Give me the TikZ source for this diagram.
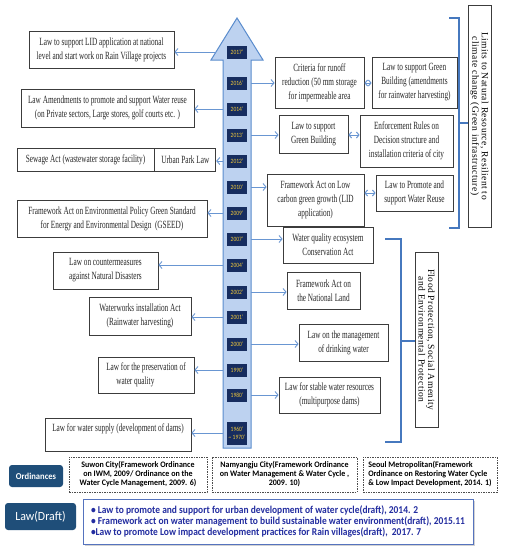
\documentclass[tikz,border=0pt]{standalone}
\usepackage{fontspec}
\usetikzlibrary{arrows.meta,shadows}
\newfontfamily\bxfont[FakeStretch=0.66]{Liberation Serif}
\newfontfamily\rotfont[LetterSpace=5]{Liberation Serif}
\newfontfamily\yrfont[FakeStretch=0.85]{Carlito}
\newfontfamily\ordfont[FakeStretch=0.95]{Carlito}
\newfontfamily\draftfont[FakeStretch=0.9]{Carlito}
\definecolor{arrfill}{RGB}{189,210,240}
\definecolor{arrline}{RGB}{90,140,205}
\definecolor{conncol}{RGB}{105,150,210}
\definecolor{navy}{RGB}{23,45,95}
\definecolor{yrtext}{RGB}{240,200,60}
\definecolor{brk}{RGB}{70,120,190}
\definecolor{boxline}{RGB}{60,60,60}
\definecolor{txt}{RGB}{40,40,40}
\definecolor{darkbtn}{RGB}{31,78,121}
\definecolor{draftblue}{RGB}{35,45,160}
\definecolor{draftline}{RGB}{85,115,190}
\tikzset{
  lawbox/.style={draw=boxline, line width=0.8pt, fill=white, inner sep=1pt, align=center, text=txt,
    font=\bxfont\fontsize{11}{14}\selectfont},
  yrbox/.style={fill=navy, text=yrtext, inner sep=0pt, minimum width=20pt, minimum height=13pt,
    align=center, font=\yrfont\fontsize{6.5}{7.5}\selectfont},
  conn/.style={draw=conncol, line width=0.9pt, -{Straight Barb[length=3pt,width=7pt]}},
  dbl/.style={draw=conncol, line width=1pt, {Straight Barb[length=2.5pt,width=6pt]}-{Straight Barb[length=2.5pt,width=6pt]}},
  brkline/.style={draw=brk, line width=1.4pt},
  rotbox/.style={draw=boxline, line width=0.8pt, fill=white, rotate=-90, align=center, inner sep=0pt,
    font=\rotfont\fontsize{9.5}{9.5}\selectfont},
  ordbox/.style={draw=gray!60!black, dash pattern=on 1.5pt off 1pt, line width=0.6pt, align=center,
    inner sep=1pt, font=\ordfont\bfseries\fontsize{8.4}{9}\selectfont},
  btn/.style={fill=darkbtn, rounded corners=3pt, text=white, inner sep=0pt},
}
\begin{document}
\begin{tikzpicture}[x=1pt,y=-1pt]
\useasboundingbox[fill=white] (0,0) rectangle (509,550);
% big timeline arrow
\draw[fill=arrfill, draw=arrline, line width=1pt]
  (223,448) -- (223,60) -- (211,60) -- (237,18) -- (263,60) -- (251,60) -- (251,448) -- cycle;
\coordinate (shL) at (223,0);
\coordinate (shR) at (251,0);
\coordinate (headL) at (216,52);
% years
\node[yrbox] (y2017) at (237,52) {2017’};
\node[yrbox] (y2016) at (237,83) {2016’};
\node[yrbox] (y2014) at (237,109) {2014’};
\node[yrbox] (y2013) at (237,135) {2013’};
\node[yrbox] (y2012) at (237,161) {2012’};
\node[yrbox] (y2010) at (237,187) {2010’};
\node[yrbox] (y2009) at (237,213) {2009’};
\node[yrbox] (y2007) at (237,239) {2007’};
\node[yrbox] (y2004) at (237,265) {2004’};
\node[yrbox] (y2002) at (237,292) {2002’};
\node[yrbox] (y2001) at (237,317) {2001’};
\node[yrbox] (y2000) at (237,344) {2000’};
\node[yrbox] (y1990) at (237,370) {1990’};
\node[yrbox] (y1980) at (237,395) {1980’};
\node[yrbox, minimum height=23pt] (y1960) at (237,433) {1960’\\\textasciitilde\ 1970’};
% left boxes
\node[lawbox, minimum width=145pt, minimum height=37pt] (L1) at (101.5,49.5)
  {Law to support LID application at national\\level and start work on Rain Village projects};
\node[lawbox, minimum width=173pt, minimum height=38pt] (L2) at (107.5,108)
  {Law Amendments to promote and support Water reuse\\(on Private sectors, Large stores, golf courts etc. )};
\node[lawbox, minimum width=137pt, minimum height=23pt] (L3a) at (85.5,159.5)
  {Sewage Act (wastewater storage facility)};
\node[lawbox, minimum width=61pt, minimum height=23pt, anchor=west] (L3b) at (L3a.east)
  {Urban Park Law};
\node[lawbox, minimum width=190pt, minimum height=37pt] (L4) at (112,218.5)
  {Framework Act on Environmental Policy Green Standard\\for Energy and Environmental Design\ \ (GSEED)};
\node[lawbox, align=left, minimum width=105pt, minimum height=37pt] (L5) at (105.5,270.5)
  {Law on countermeasures\\against Natural Disasters};
\node[lawbox, minimum width=102pt, minimum height=38pt] (L6) at (140,316)
  {Waterworks installation Act\\(Rainwater harvesting)};
\node[lawbox, align=left, minimum width=96pt, minimum height=36pt] (L7) at (146,375)
  {Law for the preservation of\\\hspace*{10pt}water quality};
\node[lawbox, minimum width=146pt, minimum height=33pt] (L8) at (118,434.5)
  {Law for water supply (development of dams)\\\mbox{}};
% right boxes
\node[lawbox, minimum width=89pt, minimum height=51pt] (R1) at (319.5,82.5)
  {Criteria for runoff\\reduction (50 mm storage\\for impermeable area};
\node[lawbox, minimum width=85pt, minimum height=51pt] (R2) at (414.5,82.5)
  {Law to support Green\\Building (amendments\\for rainwater harvesting)};
\node[lawbox, minimum width=69pt, minimum height=38pt] (R3) at (313.5,134)
  {Law to support\\Green Building};
\node[lawbox, minimum width=93pt, minimum height=52pt] (R4) at (406.5,141)
  {Enforcement Rules on\\Decision structure and\\installation criteria of city};
\node[lawbox, minimum width=97pt, minimum height=52pt] (R5) at (315.5,200)
  {Framework Act on Low\\carbon green growth (LID\\application)};
\node[lawbox, minimum width=77pt, minimum height=36pt] (R6) at (414.5,193)
  {Law to Promote and\\support Water Reuse};
\node[lawbox, minimum width=90pt, minimum height=36pt] (R7) at (328,245)
  {Water quality ecosystem\\Conservation Act};
\node[lawbox, minimum width=73pt, minimum height=37pt] (R8) at (323.5,290.5)
  {Framework Act on\\the National Land};
\node[lawbox, minimum width=89pt, minimum height=37pt] (R9) at (343.5,342.5)
  {Law on the management\\of drinking water};
\node[lawbox, minimum width=101pt, minimum height=36pt] (R10) at (329.5,395)
  {Law for stable water resources\\(multipurpose dams)};
% left connectors
\draw[conn] (y2017 -| headL) -- (L1.east |- y2017);
\draw[conn] (y2014 -| shL) -- (L2.east |- y2014);
\draw[conn] (y2012 -| shL) -- (L3b.east |- y2012);
\draw[conn] (y2009 -| shL) -- (L4.east |- y2009);
\draw[conn] (y2004 -| shL) -- (L5.east |- y2004);
\draw[conn] (y2001 -| shL) -- (L6.east |- y2001);
\draw[conn] (y1990 -| shL) -- (L7.east |- y1990);
\draw[conn] (y1960 -| shL) -- (L8.east |- y1960);
% right connectors
\draw[conn] (y2016 -| shR) -- (R1.west |- y2016);
\draw[conn] (y2013 -| shR) -- (R3.west |- y2013);
\draw[conn] (y2010 -| shR) -- (R5.west |- y2010);
\draw[conn] (y2007 -| shR) -- (R7.west |- y2007);
\draw[conn] (y2002 -| shR) -- (R8.west |- y2002);
\draw[conn] (y2000 -| shR) -- (R9.west |- y2000);
\draw[conn] (y1980 -| shR) -- (R10.west |- y1980);
\draw[dbl] (R1.east |- y2016) -- (R2.west |- y2016);
\draw[dbl] (R3.east |- y2013) -- (R4.west |- y2013);
\draw[dbl] (R5.east |- R6) -- (R6.west);
% brackets
\node[rotbox, minimum width=222pt, minimum height=23pt] (K1) at (479.5,116)
  {Limits to Natural Resource, Resilient to\\climate change (Green infrastructure)};
\node[rotbox, minimum width=175pt, minimum height=23pt] (K2) at (426.5,339.5)
  {Flood Protection, Social Amenity\\and Environmental Protection};
\draw[brkline] (449,18) -- (459,18) -- (459,228) -- (449,228);
\coordinate (b1m) at (459,123);
\draw[brkline] (b1m) -- (K1.south |- b1m);
\draw[brkline] (385,239) -- (401,239) -- (401,442) -- (385,442);
\coordinate (b2m) at (401,341);
\draw[brkline] (b2m) -- (K2.south |- b2m);
% ordinances
\node[btn, minimum width=54pt, minimum height=22pt, font=\ordfont\bfseries\fontsize{9}{10}\selectfont] (ORD) at (36,476) {Ordinances};
\node[ordbox, minimum width=138pt, minimum height=35pt] (D1) at (138,474.5)
  {Suwon City(Framework Ordinance\\on IWM, 2009/ Ordinance on the\\Water Cycle Management, 2009. 6)};
\node[ordbox, minimum width=145pt, minimum height=35pt] (D2) at (284.5,474.5)
  {Namyangju City(Framework Ordinance\\on Water Management \& Water Cycle ,\\2009. 10)};
\node[ordbox, align=left, minimum width=134pt, minimum height=35pt] (D3) at (430,474.5)
  {Seoul Metropolitan(Framework\\Ordinance on Restoring Water Cycle\\\& Low Impact Development, 2014. 1)};
% law draft
\node[btn, minimum width=71pt, minimum height=27pt, font=\ordfont\fontsize{12.5}{13}\selectfont] (LD) at (40.5,516.5) {Law(Draft)};
\node[draw=draftline, line width=1pt, fill=white, drop shadow={shadow xshift=1.5pt, shadow yshift=-1.5pt, opacity=0.35},
  align=left, text=draftblue, minimum width=390pt, minimum height=45pt, inner sep=1pt,
  font=\draftfont\bfseries\fontsize{10.5}{11}\selectfont] (DR) at (278,521.5)
  {• Law to promote and support for urban development of water cycle(draft), 2014. 2\\
   • Framework act on water management to build sustainable water environment(draft), 2015.11\\
   •Law to promote Low impact development practices for Rain villages(draft),\ \ 2017. 7};
\end{tikzpicture}
\end{document}
